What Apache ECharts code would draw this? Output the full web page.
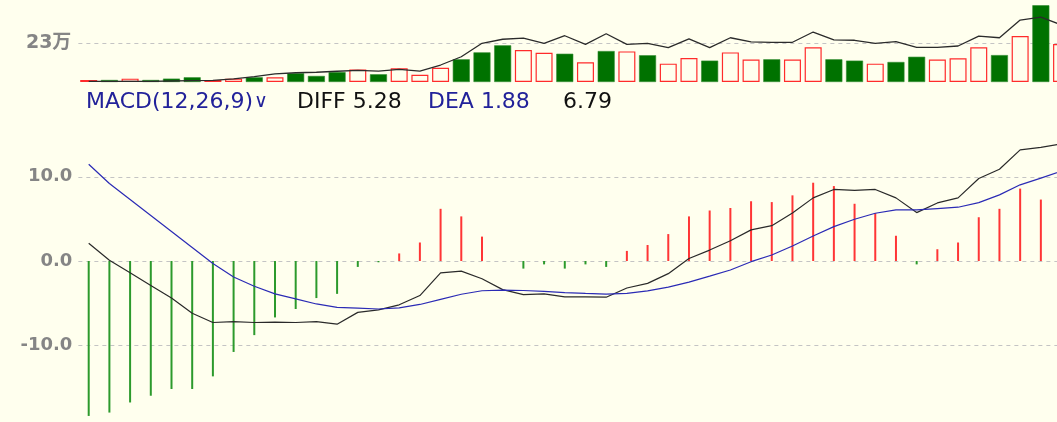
<!DOCTYPE html>
<html>
<head>
<meta charset="utf-8">
<style>
  html, body { margin: 0; padding: 0; background: #ffffee; }
  #macd { width: 1057px; height: 422px; }
</style>
<script src="https://cdn.jsdelivr.net/npm/echarts@6/dist/echarts.min.js"></script>
</head>
<body>
<div id="macd"></div>
<script>
// 成交量（万），1 = 阳线（红色空心），0 = 阴线（绿色实心）
var volume = [1.2, 1.2, 2.0, 1.2, 2.0, 2.8, 1.2, 2.0, 2.8, 2.8, 5.2, 3.6, 5.9, 7.5, 4.6, 8.1,
              4.3, 8.5, 13.5, 17.6, 21.8, 19.0, 17.4, 16.8, 11.7, 18.4, 18.2, 15.9, 10.9, 14.3, 12.7, 17.6,
              13.3, 13.5, 13.3, 20.6, 13.5, 12.7, 10.9, 11.9, 15.0, 13.3, 14.1, 20.6, 16.0, 27.3, 45.6, 22.6];
var upDay = [1, 0, 1, 0, 0, 0, 1, 1, 0, 1, 0, 0, 0, 1, 0, 1,
             1, 1, 0, 0, 0, 1, 1, 0, 1, 0, 1, 0, 1, 1, 0, 1,
             1, 0, 1, 1, 0, 0, 1, 0, 0, 1, 1, 1, 0, 1, 0, 1];
// 成交量均线（万）
var volMa = [0.4, 0.4, 0.4, 0.4, 0.6, 0.8, 1.0, 1.8, 3.2, 4.8, 5.5, 5.8, 6.4, 6.9, 6.5, 7.5,
             6.5, 10.1, 15.0, 23.0, 25.4, 26.1, 23.0, 27.5, 22.4, 28.7, 22.4, 23.0, 20.4, 25.6, 20.4, 26.3,
             23.8, 23.6, 23.6, 29.7, 25.0, 24.8, 23.0, 24.0, 20.6, 20.6, 21.4, 27.3, 26.3, 36.8, 38.5, 33.9];

// MACD
var diff = [2.1, 0.1, -1.4, -2.9, -4.4, -6.2, -7.3, -7.2, -7.3, -7.25, -7.3, -7.2, -7.5, -6.1, -5.8, -5.2,
            -4.1, -1.4, -1.2, -2.1, -3.4, -4.0, -3.9, -4.25, -4.25, -4.3, -3.2, -2.65, -1.5, 0.3, 1.3, 2.4,
            3.7, 4.2, 5.7, 7.5, 8.5, 8.4, 8.5, 7.5, 5.75, 6.9, 7.5, 9.8, 10.9, 13.2, 13.5, 13.9];
var dea = [11.5, 9.2, 7.3, 5.4, 3.5, 1.6, -0.3, -1.9, -3.0, -3.9, -4.5, -5.1, -5.5, -5.6, -5.7, -5.56,
           -5.16, -4.56, -3.95, -3.53, -3.45, -3.5, -3.6, -3.75, -3.85, -3.93, -3.85, -3.55, -3.1, -2.5, -1.8, -1.07,
           -0.08, 0.71, 1.79, 2.98, 4.09, 4.96, 5.67, 6.07, 6.07, 6.23, 6.39, 6.94, 7.86, 9.05, 9.84, 10.7];
var macdBar = [-18.4, -18.0, -16.8, -16.0, -15.2, -15.2, -13.7, -10.8, -8.8, -6.7, -5.7, -4.4, -3.9, -0.7, -0.15, 0.9,
               2.2, 6.2, 5.3, 2.9, 0.0, -0.9, -0.4, -0.9, -0.4, -0.7, 1.2, 1.9, 3.2, 5.3, 6.0, 6.3,
               7.1, 7.0, 7.8, 9.3, 8.9, 6.8, 5.7, 3.0, -0.4, 1.4, 2.2, 5.2, 6.2, 8.6, 7.3, 6.4];

var myChart = echarts.init(document.getElementById('macd'));

// 横轴按交易日序号，最后一根只露出一部分
function pairs(arr) {
  return arr.map(function (v, i) { return [i, v]; });
}

var volItems = volume.map(function (v, i) {
  return {
    value: [i, v],
    itemStyle: upDay[i]
      ? { color: '#ffffee', borderColor: '#ff2b2b', borderWidth: 1.2 }
      : { color: '#007200', borderColor: '#2f8a2f', borderWidth: 0.6 }
  };
});

var labelFont = { color: '#858585', fontWeight: 'bold', fontFamily: 'DejaVu Sans, Noto Sans CJK SC' };
var dashed = { lineStyle: { color: '#c4c4c4', type: [4, 4], width: 1 } };

var option = {
  backgroundColor: '#ffffee',
  animation: false,
  grid: [
    { left: 78.35, right: 0, top: 4.6, height: 77.4 },
    { left: 78.35, right: 0, top: 122.1, height: 299.9 }
  ],
  xAxis: [
    { type: 'value', gridIndex: 0, min: -0.5, max: 46.78, show: false },
    { type: 'value', gridIndex: 1, min: -0.5, max: 46.78, show: false }
  ],
  yAxis: [
    {
      gridIndex: 0, min: 0, max: 46, interval: 23,
      axisLine: { show: false }, axisTick: { show: false },
      axisLabel: Object.assign({
        fontSize: 19, margin: 7, showMinLabel: false, showMaxLabel: false,
        formatter: function (v) { return v + '万'; }
      }, labelFont),
      splitLine: Object.assign({ show: true, showMinLine: false, showMaxLine: false }, dashed)
    },
    {
      gridIndex: 1, min: -19.12, max: 16.5, splitNumber: 4,
      axisLine: { show: false }, axisTick: { show: false },
      axisLabel: Object.assign({
        fontSize: 18, margin: 6, showMinLabel: false, showMaxLabel: false,
        formatter: function (v) { return v.toFixed(1); }
      }, labelFont),
      splitLine: Object.assign({ show: true, showMinLine: false, showMaxLine: false }, dashed)
    }
  ],
  graphic: [
    { type: 'text', left: 86, top: 91, style: { text: 'MACD(12,26,9)', fill: '#22229a', font: '22px "DejaVu Sans"' } },
    { type: 'text', left: 254, top: 93, style: { text: '∨', fill: '#22229a', font: '19px "DejaVu Sans"' } },
    { type: 'text', left: 297, top: 91, style: { text: 'DIFF 5.28', fill: '#111111', font: '22px "DejaVu Sans"' } },
    { type: 'text', left: 428, top: 91, style: { text: 'DEA 1.88', fill: '#22229a', font: '22px "DejaVu Sans"' } },
    { type: 'text', left: 563, top: 91, style: { text: '6.79', fill: '#111111', font: '22px "DejaVu Sans"' } }
  ],
  series: [
    {
      name: 'VOL', type: 'bar', xAxisIndex: 0, yAxisIndex: 0,
      barWidth: 17, clip: true, data: volItems
    },
    {
      name: 'VOLMA', type: 'line', xAxisIndex: 0, yAxisIndex: 0,
      data: pairs(volMa), symbol: 'none', z: 5, clip: true,
      lineStyle: { color: '#2b2b2b', width: 1.3 }
    },
    {
      name: 'MACD', type: 'bar', xAxisIndex: 1, yAxisIndex: 1,
      barWidth: 2, clip: true, data: pairs(macdBar),
      itemStyle: {
        color: function (p) { return p.value[1] >= 0 ? '#ff3535' : '#2c9a2c'; }
      }
    },
    {
      name: 'DIFF', type: 'line', xAxisIndex: 1, yAxisIndex: 1,
      data: pairs(diff), symbol: 'none', z: 5, clip: true,
      lineStyle: { color: '#2a2a2a', width: 1.2 }
    },
    {
      name: 'DEA', type: 'line', xAxisIndex: 1, yAxisIndex: 1,
      data: pairs(dea), symbol: 'none', z: 5, clip: true,
      lineStyle: { color: '#2b2bb5', width: 1.2 }
    }
  ]
};

myChart.setOption(option);
</script>
</body>
</html>
